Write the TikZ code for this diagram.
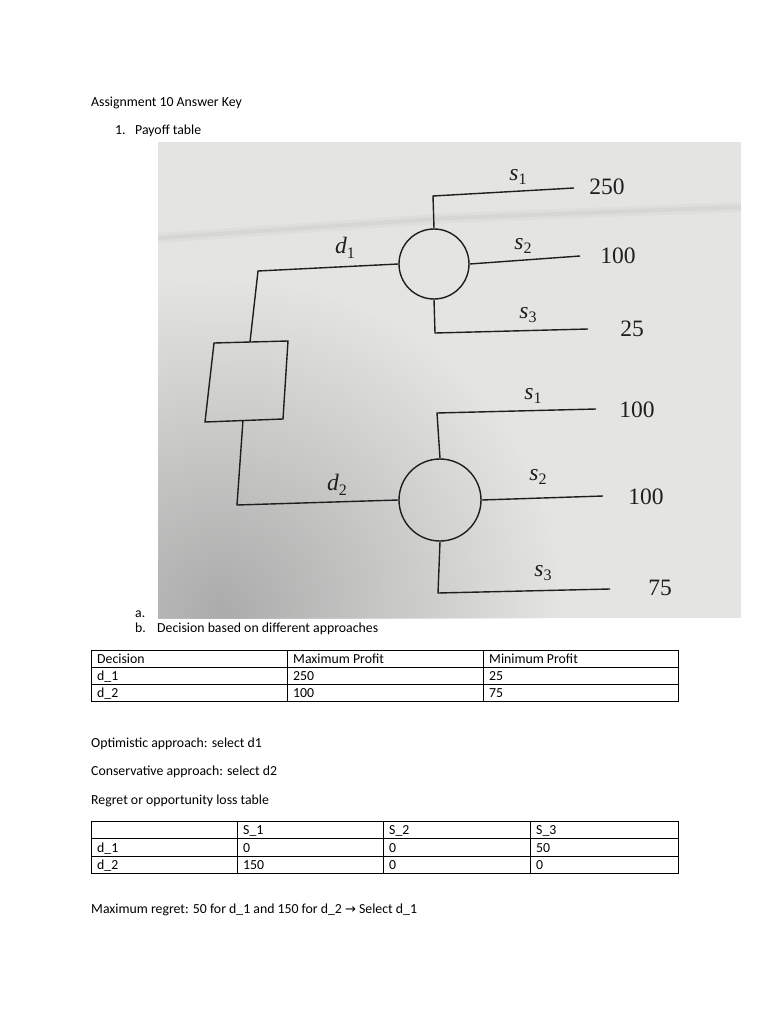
\documentclass[tikz,border=0pt]{standalone}
\usepackage{fontspec}
\setmainfont{Carlito}
\newfontfamily\tms{Liberation Serif}
\newfontfamily\djv{DejaVu Sans}
\usetikzlibrary{fadings}
\tikzfading[name=blobfade, inner color=transparent!15, outer color=transparent!100]
\definecolor{photobase}{HTML}{E4E4E2}
\definecolor{photoshade}{HTML}{A2A2A2}
\definecolor{ink}{HTML}{1E1E1E}
\newcommand\mylab[2]{\textit{#1}\raisebox{-0.4ex}{\fontsize{16}{16}\selectfont #2}}
\begin{document}
\begin{tikzpicture}[x=1pt,y=-1pt,
  txt/.style={font=\fontsize{13.8}{16}\selectfont, anchor=base west, inner sep=0pt},
  tree/.style={line width=1.4pt, draw=ink},
  lab/.style={font=\tms\fontsize{23.5}{25}\selectfont, text=ink, inner sep=0pt},
  chance/.style={circle, draw=ink, line width=1.4pt, inner sep=0pt},
  gridline/.style={line width=0.75pt, draw=black}]
\useasboundingbox[fill=white] (0,0) rectangle (768,1024);

% header text
\node[txt] (title) at (91,107) {Assignment 10 Answer Key};
\node[txt] (n1) at (115,135) {1.};
\node[txt] (payoff) at (135,135) {Payoff table};

% photo background
\fill[photobase] (158,142) rectangle (741,618);
\begin{scope}
  \clip (158,142) rectangle (741,618);
  \fill[photoshade, path fading=blobfade] (220,610) ellipse [x radius=340, y radius=330];
  \draw[gray, opacity=0.06, line width=10pt] (158,238) -- (450,218) -- (741,207);
  \draw[gray, opacity=0.08, line width=4pt] (158,238) -- (450,218) -- (741,207);
\end{scope}

% decision node (square, photographed slightly skewed)
\coordinate (sqTL) at (214,343);
\coordinate (sqTR) at (288,341);
\coordinate (sqBR) at (283,419);
\coordinate (sqBL) at (205,422);
\draw[tree] (sqTL) -- (sqTR) -- (sqBR) -- (sqBL) -- cycle;
\coordinate (sqTop) at (250,342);
\coordinate (sqBot) at (243,420);

% chance nodes
\node[chance, minimum size=70pt] (c1) at (434,264) {};
\node[chance, minimum size=82pt] (c2) at (440,500) {};

% corner coordinates
\coordinate (k1) at (258,271);
\coordinate (k2) at (237,505);
\coordinate (u1) at (433,196);
\coordinate (l1) at (435,333);
\coordinate (u2) at (437,413);
\coordinate (l2) at (438,593);

% branch ends
\coordinate (e11) at (574,188);
\coordinate (e12) at (580,256);
\coordinate (e13) at (588,329);
\coordinate (e21) at (596,409);
\coordinate (e22) at (603,496);
\coordinate (e23) at (610,589);

% decision branches
\draw[tree] (sqTop) -- (k1) -- (c1.west);
\draw[tree] (sqBot) -- (k2) -- (c2.west);

% state branches
\draw[tree] (c1.north) -- (u1) -- (e11);
\draw[tree] (c1.east) -- (e12);
\draw[tree] (c1.south) -- (l1) -- (e13);
\draw[tree] (c2.north) -- (u2) -- (e21);
\draw[tree] (c2.east) -- (e22);
\draw[tree] (c2.south) -- (l2) -- (e23);

% labels
\node[lab] (d1) at (345,248) {\mylab{d}{1}};
\node[lab] (d2) at (337,485) {\mylab{d}{2}};
\node[lab] (s11) at (518,177) {\mylab{s}{1}};
\node[lab] (s12) at (523,246) {\mylab{s}{2}};
\node[lab] (s13) at (528,315) {\mylab{s}{3}};
\node[lab] (s21) at (533,396) {\mylab{s}{1}};
\node[lab] (s22) at (538,477) {\mylab{s}{2}};
\node[lab] (s23) at (543,573) {\mylab{s}{3}};
\node[lab] (v11) at (607,187) {250};
\node[lab] (v12) at (618,256) {100};
\node[lab] (v13) at (632,329) {25};
\node[lab] (v21) at (637,410) {100};
\node[lab] (v22) at (646,497) {100};
\node[lab] (v23) at (660,588) {75};

% list items
\node[txt] (ia) at (135,617) {a.};
\node[txt] (ib) at (135,632) {b.};
\node[txt] (ibt) at (157,632) {Decision based on different approaches};

% table 1
\draw[gridline] (91,650) rectangle (678,701);
\draw[gridline] (91,667) -- (678,667);
\draw[gridline] (91,684) -- (678,684);
\draw[gridline] (287,650) -- (287,701);
\draw[gridline] (483,650) -- (483,701);
\node[txt] (t11) at (97,663) {Decision};
\node[txt] (t12) at (293,663) {Maximum Profit};
\node[txt] (t13) at (489,663) {Minimum Profit};
\node[txt] (t21) at (97,680) {d\_1};
\node[txt] (t22) at (293,680) {250};
\node[txt] (t23) at (489,680) {25};
\node[txt] (t31) at (97,697) {d\_2};
\node[txt] (t32) at (293,697) {100};
\node[txt] (t33) at (489,697) {75};

% approaches
\node[txt] (opt) at (91,747) {Optimistic approach: select d1};
\node[txt] (cons) at (91,775) {Conservative approach: select d2};
\node[txt] (reg) at (91,804) {Regret or opportunity loss table};

% table 2
\draw[gridline] (91,821) rectangle (678,873);
\draw[gridline] (91,838) -- (678,838);
\draw[gridline] (91,856) -- (678,856);
\draw[gridline] (237,821) -- (237,873);
\draw[gridline] (383,821) -- (383,873);
\draw[gridline] (530,821) -- (530,873);
\node[txt] (r12) at (243,834) {S\_1};
\node[txt] (r13) at (389,834) {S\_2};
\node[txt] (r14) at (536,834) {S\_3};
\node[txt] (r21) at (97,852) {d\_1};
\node[txt] (r22) at (243,852) {0};
\node[txt] (r23) at (389,852) {0};
\node[txt] (r24) at (536,852) {50};
\node[txt] (r31) at (97,869) {d\_2};
\node[txt] (r32) at (243,869) {150};
\node[txt] (r33) at (389,869) {0};
\node[txt] (r34) at (536,869) {0};

\node[txt] (maxreg) at (91,913) {Maximum regret: 50 for d\_1 and 150 for d\_2 {\djv\fontsize{13}{15}\selectfont →} Select d\_1};
\end{tikzpicture}
\end{document}
